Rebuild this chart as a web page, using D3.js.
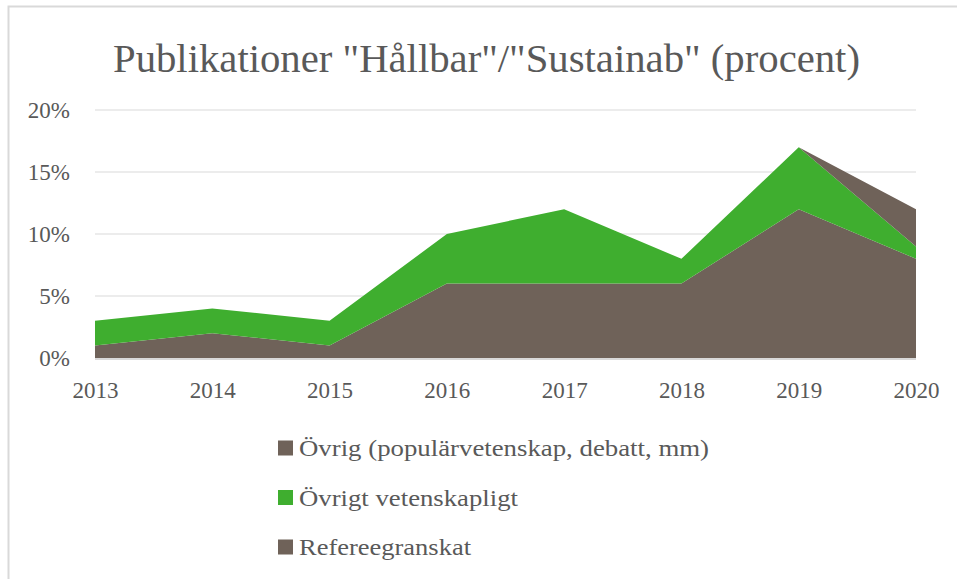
<!DOCTYPE html>
<meta charset="utf-8">
<script src="https://d3js.org/d3.v7.min.js"></script>
<style>
  body { margin: 0; background: #fff; }
  text { font-family: "Liberation Serif", "DejaVu Serif", serif; fill: #595959; }
</style>
<div id="chart"></div>
<script>
  // data (percent)
  var years = ["2013", "2014", "2015", "2016", "2017", "2018", "2019", "2020"];
  var referee = [1, 2, 1, 6, 6, 6, 12, 8];
  var ovrigtVet = [2, 2, 2, 4, 6, 2, 5, 1];
  var ovrig = [0, 0, 0, 0, 0, 0, 0, 3];
  var yTicks = [0, 5, 10, 15, 20];

  var seriesNames = ["Refereegranskat", "Övrigt vetenskapligt", "Övrig (populärvetenskap, debatt, mm)"];
  var colors = ["#6f6259", "#3fae2f", "#6f6259"];
  // rendered widths of the legend labels in the original (Palatino-like face)
  var legendWidths = [172, 219, 410];

  var W = 957, H = 579;
  var margin = {top: 110, right: 41, bottom: 221, left: 95};
  var width = W - margin.left - margin.right,
      height = H - margin.top - margin.bottom;

  var svg = d3.select("#chart").append("svg")
      .attr("width", W).attr("height", H);

  // chart border
  svg.append("rect")
    .attr("x", 8.5).attr("y", 6.5)
    .attr("width", W).attr("height", H)
    .attr("fill", "none").attr("stroke", "#d9d9d9").attr("stroke-width", 2);

  svg.append("text")
    .attr("x", 113).attr("y", 72)
    .attr("textLength", 747)
    .attr("lengthAdjust", "spacingAndGlyphs")
    .style("font-size", "39px")
    .text('Publikationer "Hållbar"/"Sustainab" (procent)');

  var g = svg.append("g")
    .attr("transform", "translate(" + margin.left + "," + margin.top + ")");

  var x = d3.scalePoint().domain(years).range([0, width]);
  var y = d3.scaleLinear().domain([0, 20]).range([height, 0]);

  // gridlines
  g.append("g")
    .selectAll("line")
    .data(yTicks)
    .enter().append("line")
      .attr("x1", 0).attr("x2", width)
      .attr("y1", d => y(d)).attr("y2", d => y(d))
      .attr("stroke", "#d9d9d9").attr("stroke-width", 1);

  var table = years.map(function(yr, i) {
    return {year: yr, s0: referee[i], s1: ovrigtVet[i], s2: ovrig[i]};
  });
  var stack = d3.stack().keys(["s0", "s1", "s2"]);
  var layers = stack(table);

  var area = d3.area()
    .x(d => x(d.data.year))
    .y0(d => y(d[0]))
    .y1(d => y(d[1]));

  g.selectAll(".layer")
    .data(layers)
    .enter().append("path")
      .attr("class", "layer")
      .attr("d", area)
      .attr("fill", (d, i) => colors[i]);

  // baseline
  g.append("line")
    .attr("x1", 0).attr("x2", width)
    .attr("y1", y(0) + 1).attr("y2", y(0) + 1)
    .attr("stroke", "#d9d9d9").attr("stroke-width", 2);

  // y axis labels
  var yAxis = g.append("g")
    .call(d3.axisLeft(y).tickValues(yTicks).tickFormat(d => d + "%").tickSize(0).tickPadding(25));
  yAxis.select(".domain").remove();
  yAxis.selectAll("text").style("font-size", "23px").attr("font-family", null).attr("fill", null);

  var xAxis = g.append("g")
    .attr("transform", "translate(0," + height + ")")
    .call(d3.axisBottom(x).tickSize(0).tickPadding(24));
  xAxis.select(".domain").remove();
  xAxis.selectAll("text").style("font-size", "23px").attr("font-family", null).attr("fill", null);

  // legend (reverse order)
  var legendItems = [2, 1, 0];
  var leg = svg.append("g").attr("transform", "translate(278,448)");
  var li = leg.selectAll("g")
    .data(legendItems)
    .enter().append("g")
      .attr("transform", (d, i) => "translate(0," + (i * 49.5) + ")");
  li.append("rect")
    .attr("x", 0).attr("y", -7.5)
    .attr("width", 15).attr("height", 15)
    .attr("fill", d => colors[d]);
  li.append("text")
    .attr("x", 21).attr("y", 0)
    .attr("dy", "0.35em")
    .attr("textLength", d => legendWidths[d])
    .attr("lengthAdjust", "spacingAndGlyphs")
    .style("font-size", "23px")
    .text(d => seriesNames[d]);
</script>
